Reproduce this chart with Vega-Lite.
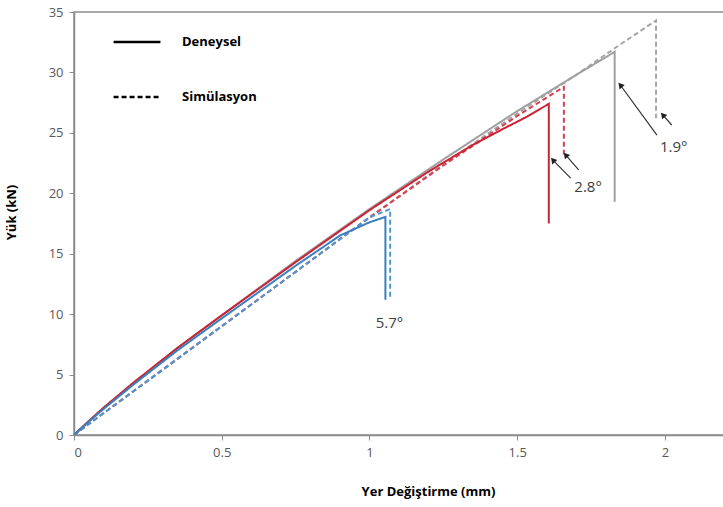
{
  "$schema": "https://vega.github.io/schema/vega-lite/v6.json",
  "width": 650,
  "height": 423,
  "autosize": "none",
  "padding": {"left": 74, "top": 12, "right": 0, "bottom": 72},
  "background": "white",
  "config": {
    "view": {"stroke": "#8c8c8c", "strokeWidth": 1.5},
    "font": "Open Sans",
    "axis": {"grid": false, "domainColor": "#8c8c8c", "domainWidth": 1.5, "tickColor": "#8c8c8c", "labelColor": "#595959", "labelFontSize": 13, "labelFont": "Open Sans", "titleFont": "Open Sans", "titleFontSize": 13, "titleFontWeight": "bold", "titleColor": "#000000"}
  },
  "datasets": {
    "curves": [
      {"seri": "1.9° Simülasyon", "tip": "Simülasyon", "o": 1, "x": 0, "y": 0},
      {"seri": "1.9° Simülasyon", "tip": "Simülasyon", "o": 2, "x": 0.25, "y": 4.5},
      {"seri": "1.9° Simülasyon", "tip": "Simülasyon", "o": 3, "x": 0.5, "y": 9.0},
      {"seri": "1.9° Simülasyon", "tip": "Simülasyon", "o": 4, "x": 0.75, "y": 13.5},
      {"seri": "1.9° Simülasyon", "tip": "Simülasyon", "o": 5, "x": 1.0, "y": 18.0},
      {"seri": "1.9° Simülasyon", "tip": "Simülasyon", "o": 6, "x": 1.25, "y": 22.4},
      {"seri": "1.9° Simülasyon", "tip": "Simülasyon", "o": 7, "x": 1.5, "y": 26.6},
      {"seri": "1.9° Simülasyon", "tip": "Simülasyon", "o": 8, "x": 1.7, "y": 29.8},
      {"seri": "1.9° Simülasyon", "tip": "Simülasyon", "o": 9, "x": 1.83, "y": 32.0},
      {"seri": "1.9° Simülasyon", "tip": "Simülasyon", "o": 10, "x": 1.97, "y": 34.3},
      {"seri": "1.9° Simülasyon", "tip": "Simülasyon", "o": 11, "x": 1.97, "y": 26.2},
      {"seri": "1.9° Deneysel", "tip": "Deneysel", "o": 1, "x": 0, "y": 0},
      {"seri": "1.9° Deneysel", "tip": "Deneysel", "o": 2, "x": 0.05, "y": 1.15},
      {"seri": "1.9° Deneysel", "tip": "Deneysel", "o": 3, "x": 0.1, "y": 2.25},
      {"seri": "1.9° Deneysel", "tip": "Deneysel", "o": 4, "x": 0.2, "y": 4.3},
      {"seri": "1.9° Deneysel", "tip": "Deneysel", "o": 5, "x": 0.35, "y": 7.2},
      {"seri": "1.9° Deneysel", "tip": "Deneysel", "o": 6, "x": 0.5, "y": 9.9},
      {"seri": "1.9° Deneysel", "tip": "Deneysel", "o": 7, "x": 0.75, "y": 14.4},
      {"seri": "1.9° Deneysel", "tip": "Deneysel", "o": 8, "x": 1.0, "y": 18.7},
      {"seri": "1.9° Deneysel", "tip": "Deneysel", "o": 9, "x": 1.25, "y": 22.8},
      {"seri": "1.9° Deneysel", "tip": "Deneysel", "o": 10, "x": 1.5, "y": 26.8},
      {"seri": "1.9° Deneysel", "tip": "Deneysel", "o": 11, "x": 1.7, "y": 29.8},
      {"seri": "1.9° Deneysel", "tip": "Deneysel", "o": 12, "x": 1.83, "y": 31.7},
      {"seri": "1.9° Deneysel", "tip": "Deneysel", "o": 13, "x": 1.83, "y": 19.3},
      {"seri": "2.8° Simülasyon", "tip": "Simülasyon", "o": 1, "x": 0, "y": 0},
      {"seri": "2.8° Simülasyon", "tip": "Simülasyon", "o": 2, "x": 0.25, "y": 4.5},
      {"seri": "2.8° Simülasyon", "tip": "Simülasyon", "o": 3, "x": 0.5, "y": 9.0},
      {"seri": "2.8° Simülasyon", "tip": "Simülasyon", "o": 4, "x": 0.75, "y": 13.5},
      {"seri": "2.8° Simülasyon", "tip": "Simülasyon", "o": 5, "x": 1.0, "y": 18.0},
      {"seri": "2.8° Simülasyon", "tip": "Simülasyon", "o": 6, "x": 1.25, "y": 22.3},
      {"seri": "2.8° Simülasyon", "tip": "Simülasyon", "o": 7, "x": 1.5, "y": 26.4},
      {"seri": "2.8° Simülasyon", "tip": "Simülasyon", "o": 8, "x": 1.658, "y": 28.8},
      {"seri": "2.8° Simülasyon", "tip": "Simülasyon", "o": 9, "x": 1.658, "y": 23.2},
      {"seri": "2.8° Deneysel", "tip": "Deneysel", "o": 1, "x": 0, "y": 0},
      {"seri": "2.8° Deneysel", "tip": "Deneysel", "o": 2, "x": 0.05, "y": 1.15},
      {"seri": "2.8° Deneysel", "tip": "Deneysel", "o": 3, "x": 0.1, "y": 2.25},
      {"seri": "2.8° Deneysel", "tip": "Deneysel", "o": 4, "x": 0.2, "y": 4.3},
      {"seri": "2.8° Deneysel", "tip": "Deneysel", "o": 5, "x": 0.35, "y": 7.2},
      {"seri": "2.8° Deneysel", "tip": "Deneysel", "o": 6, "x": 0.5, "y": 9.9},
      {"seri": "2.8° Deneysel", "tip": "Deneysel", "o": 7, "x": 0.75, "y": 14.3},
      {"seri": "2.8° Deneysel", "tip": "Deneysel", "o": 8, "x": 1.0, "y": 18.6},
      {"seri": "2.8° Deneysel", "tip": "Deneysel", "o": 9, "x": 1.2, "y": 21.8},
      {"seri": "2.8° Deneysel", "tip": "Deneysel", "o": 10, "x": 1.35, "y": 24.0},
      {"seri": "2.8° Deneysel", "tip": "Deneysel", "o": 11, "x": 1.45, "y": 25.3},
      {"seri": "2.8° Deneysel", "tip": "Deneysel", "o": 12, "x": 1.53, "y": 26.3},
      {"seri": "2.8° Deneysel", "tip": "Deneysel", "o": 13, "x": 1.607, "y": 27.4},
      {"seri": "2.8° Deneysel", "tip": "Deneysel", "o": 14, "x": 1.607, "y": 17.5},
      {"seri": "5.7° Simülasyon", "tip": "Simülasyon", "o": 1, "x": 0, "y": 0},
      {"seri": "5.7° Simülasyon", "tip": "Simülasyon", "o": 2, "x": 0.25, "y": 4.5},
      {"seri": "5.7° Simülasyon", "tip": "Simülasyon", "o": 3, "x": 0.5, "y": 9.0},
      {"seri": "5.7° Simülasyon", "tip": "Simülasyon", "o": 4, "x": 0.75, "y": 13.5},
      {"seri": "5.7° Simülasyon", "tip": "Simülasyon", "o": 5, "x": 1.0, "y": 18.0},
      {"seri": "5.7° Simülasyon", "tip": "Simülasyon", "o": 6, "x": 1.07, "y": 18.7},
      {"seri": "5.7° Simülasyon", "tip": "Simülasyon", "o": 7, "x": 1.07, "y": 11.2},
      {"seri": "5.7° Deneysel", "tip": "Deneysel", "o": 1, "x": 0, "y": 0},
      {"seri": "5.7° Deneysel", "tip": "Deneysel", "o": 2, "x": 0.05, "y": 1.1},
      {"seri": "5.7° Deneysel", "tip": "Deneysel", "o": 3, "x": 0.1, "y": 2.15},
      {"seri": "5.7° Deneysel", "tip": "Deneysel", "o": 4, "x": 0.2, "y": 4.15},
      {"seri": "5.7° Deneysel", "tip": "Deneysel", "o": 5, "x": 0.35, "y": 7.0},
      {"seri": "5.7° Deneysel", "tip": "Deneysel", "o": 6, "x": 0.5, "y": 9.65},
      {"seri": "5.7° Deneysel", "tip": "Deneysel", "o": 7, "x": 0.75, "y": 14.0},
      {"seri": "5.7° Deneysel", "tip": "Deneysel", "o": 8, "x": 0.9, "y": 16.5},
      {"seri": "5.7° Deneysel", "tip": "Deneysel", "o": 9, "x": 1.0, "y": 17.6},
      {"seri": "5.7° Deneysel", "tip": "Deneysel", "o": 10, "x": 1.054, "y": 18.05},
      {"seri": "5.7° Deneysel", "tip": "Deneysel", "o": 11, "x": 1.054, "y": 11.2}
    ],
    "labels": [
      {"t": "5.7°", "x": 1.068, "y": 9.3},
      {"t": "2.8°", "x": 1.74, "y": 20.5},
      {"t": "1.9°", "x": 2.03, "y": 23.8}
    ],
    "arrows": [
      {"x": 1.681, "y": 21.26, "x2": 1.621, "y2": 22.75},
      {"x": 1.708, "y": 21.93, "x2": 1.664, "y2": 23.17},
      {"x": 1.973, "y": 24.82, "x2": 1.849, "y2": 28.96},
      {"x": 2.023, "y": 25.65, "x2": 1.993, "y2": 26.48}
    ]
  },
  "layer": [
    {
      "data": {"name": "curves"},
      "mark": {"type": "line", "strokeWidth": 2, "clip": true},
      "encoding": {
        "x": {"field": "x", "type": "quantitative", "scale": {"domain": [0, 2.181]}, "axis": {"values": [0, 0.5, 1, 1.5, 2], "labelExpr": "datum.value", "tickSize": 5, "labelPadding": 6, "title": "Yer Değiştirme (mm)", "titlePadding": 26, "titleX": 354}},
        "y": {"field": "y", "type": "quantitative", "scale": {"domain": [0, 35]}, "axis": {"values": [0, 5, 10, 15, 20, 25, 30, 35], "tickSize": 5, "labelPadding": 6, "title": "Yük (kN)", "titlePadding": 30, "titleY": 200}},
        "detail": {"field": "seri"},
        "order": {"field": "o"},
        "color": {"field": "seri", "type": "nominal", "legend": null, "scale": {
          "domain": ["1.9° Simülasyon", "1.9° Deneysel", "2.8° Simülasyon", "2.8° Deneysel", "5.7° Simülasyon", "5.7° Deneysel"],
          "range": ["#a6a6a6", "#a0a0a0", "#d9404f", "#cc2233", "#4a9ad6", "#3a7fc0"]}},
        "strokeDash": {"field": "tip", "type": "nominal", "scale": {"domain": ["Deneysel", "Simülasyon"], "range": [[1, 0], [5, 3]]},
          "legend": {"title": null, "orient": "none", "legendX": 38, "legendY": 5, "symbolType": "stroke", "symbolSize": 2200, "symbolStrokeWidth": 2.5, "symbolStrokeColor": "#000000", "labelFontSize": 13, "labelFontWeight": "bold", "labelColor": "#000000", "labelFont": "Open Sans", "rowPadding": 23, "labelOffset": 20}}
      }
    },
    {
      "data": {"name": "arrows"},
      "mark": {"type": "rule", "color": "#333333", "strokeWidth": 1.2},
      "encoding": {
        "x": {"field": "x", "type": "quantitative"},
        "y": {"field": "y", "type": "quantitative"},
        "x2": {"field": "x2"},
        "y2": {"field": "y2"}
      }
    },
    {
      "data": {"name": "arrows"},
      "mark": {"type": "point", "shape": "triangle-up", "filled": true, "color": "#222222", "size": 45, "angle": 320, "opacity": 1},
      "encoding": {
        "x": {"field": "x2", "type": "quantitative"},
        "y": {"field": "y2", "type": "quantitative"}
      }
    },
    {
      "data": {"name": "labels"},
      "mark": {"type": "text", "fontSize": 15, "color": "#404040", "font": "Open Sans"},
      "encoding": {
        "x": {"field": "x", "type": "quantitative"},
        "y": {"field": "y", "type": "quantitative"},
        "text": {"field": "t"}
      }
    }
  ]
}
